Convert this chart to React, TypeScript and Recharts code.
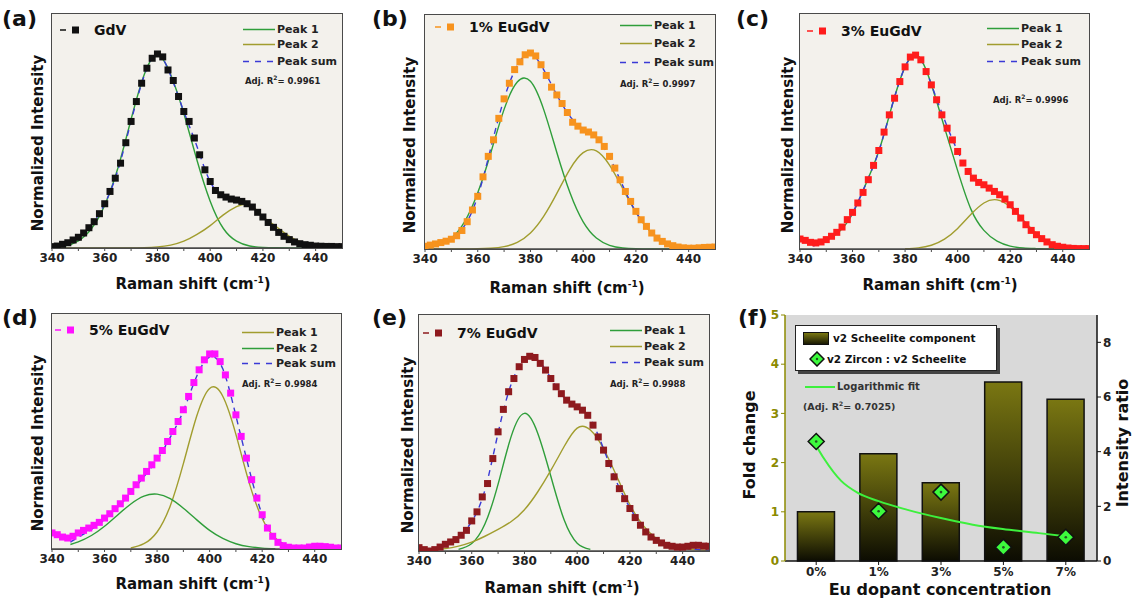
import React from 'react';
import { ComposedChart, Line, Bar, XAxis, YAxis, CartesianGrid } from 'recharts';

const FONT = '"DejaVu Sans", Verdana, sans-serif';
const BG = '#f3f1ec';
const GREEN = '#2f9e3a';
const OLIVE = '#a19d2e';
const BLUE = '#3a3ad6';
const FRAME = '#4a4a4a';

// raman shift grid of the measured points (cm-1)
const shiftGrid = [
  340, 342, 344, 346, 348, 350, 352, 354, 356, 358, 360, 362, 364, 366, 368, 370, 372, 374, 376, 378,
  380, 382, 384, 386, 388, 390, 392, 394, 396, 398, 400, 402, 404, 406, 408, 410, 412, 414, 416, 418,
  420, 422, 424, 426, 428, 430, 432, 434, 436, 438, 440, 442, 444, 446, 448, 450,
];
// grid of the fitted curves
const peakGrid = [340, 345, 350, 355, 360, 365, 370, 375, 380, 385, 390, 395, 400, 405, 410, 415, 420, 425, 430, 435, 440, 445, 450];
const peakGridD = [347, 350, 355, 360, 365, 370, 375, 380, 385, 390, 395, 400, 405, 410, 415, 420, 425, 430, 435, 440, 445, 450];
const ramanTicks = [340, 350, 360, 370, 380, 390, 400, 410, 420, 430, 440];

// (a) GdV
const gdvData = [
  0.007, 0.01, 0.019, 0.027, 0.041, 0.055, 0.077, 0.104, 0.135, 0.176, 0.227, 0.29, 0.358, 0.435, 0.54, 0.649, 0.751, 0.845, 0.922, 0.973,
  0.995, 0.98, 0.913, 0.859, 0.777, 0.7, 0.649, 0.564, 0.478, 0.401, 0.341, 0.295, 0.273, 0.261, 0.251, 0.246, 0.239, 0.227, 0.21, 0.183,
  0.159, 0.131, 0.106, 0.08, 0.06, 0.043, 0.031, 0.022, 0.017, 0.014, 0.01, 0.009, 0.008, 0.008, 0.007, 0.007,
];
const gdvPeak1 = [0.003, 0.011, 0.037, 0.1, 0.22, 0.41, 0.66, 0.89, 0.99, 0.89, 0.69, 0.45, 0.24, 0.1, 0.035, 0.01, 0.003, 0.001, 0, 0, 0, 0, 0];
const gdvPeak2 = [0, 0, 0, 0, 0, 0, 0, 0.002, 0.006, 0.015, 0.035, 0.07, 0.115, 0.17, 0.212, 0.222, 0.162, 0.11, 0.06, 0.028, 0.012, 0.005, 0.002];
const gdvSum = [0.007, 0.022, 0.055, 0.12, 0.227, 0.4, 0.65, 0.885, 0.995, 0.885, 0.7, 0.52, 0.34, 0.267, 0.246, 0.22, 0.159, 0.093, 0.043, 0.019, 0.01, 0.008, 0.007];

// (b) 1% EuGdV
const eu1Data = [
  0.014, 0.02, 0.026, 0.033, 0.04, 0.05, 0.068, 0.095, 0.14, 0.2, 0.27, 0.37, 0.475, 0.56, 0.67, 0.77, 0.85, 0.92, 0.96, 0.996,
  1.005, 0.99, 0.945, 0.89, 0.83, 0.79, 0.746, 0.7, 0.65, 0.63, 0.61, 0.6, 0.585, 0.56, 0.526, 0.475, 0.415, 0.355, 0.295, 0.244,
  0.193, 0.15, 0.116, 0.082, 0.056, 0.039, 0.026, 0.017, 0.01, 0.006, 0.004, 0.004, 0.006, 0.008, 0.009, 0.01,
];
const eu1Peak1 = [0.005, 0.019, 0.056, 0.139, 0.288, 0.495, 0.716, 0.856, 0.86, 0.716, 0.495, 0.288, 0.139, 0.056, 0.019, 0.005, 0.001, 0, 0, 0, 0, 0, 0];
const eu1Peak2 = [0, 0, 0, 0, 0.001, 0.004, 0.012, 0.034, 0.082, 0.167, 0.285, 0.41, 0.494, 0.503, 0.43, 0.31, 0.188, 0.096, 0.041, 0.015, 0.005, 0.001, 0];
const eu1Sum = [0.01, 0.03, 0.055, 0.12, 0.27, 0.52, 0.77, 0.94, 1.0, 0.92, 0.79, 0.68, 0.615, 0.57, 0.47, 0.325, 0.19, 0.1, 0.04, 0.014, 0.004, 0.004, 0.008];

// (c) 3% EuGdV
const eu3Data = [
  0.051, 0.044, 0.034, 0.031, 0.036, 0.048, 0.065, 0.085, 0.112, 0.15, 0.187, 0.235, 0.289, 0.354, 0.427, 0.503, 0.597, 0.685, 0.77, 0.855,
  0.93, 0.98, 0.99, 0.966, 0.906, 0.838, 0.762, 0.685, 0.617, 0.557, 0.498, 0.439, 0.396, 0.362, 0.34, 0.328, 0.311, 0.294, 0.277, 0.255,
  0.226, 0.192, 0.158, 0.124, 0.095, 0.073, 0.053, 0.036, 0.022, 0.014, 0.009, 0.005, 0.003, 0.002, 0.002, 0.002,
];
const eu3Peak1 = [null, 0.02, 0.045, 0.09, 0.18, 0.33, 0.5, 0.73, 0.93, 0.985, 0.84, 0.62, 0.4, 0.205, 0.095, 0.04, 0.015, 0.005, 0.002, 0, 0, 0, 0];
const eu3Peak2 = [null, null, null, null, null, null, null, null, 0.0015, 0.006, 0.019, 0.05, 0.105, 0.176, 0.235, 0.251, 0.215, 0.147, 0.08, 0.035, 0.0125, 0.0035, 0.001];
const eu3Sum = [null, 0.015, 0.045, 0.095, 0.185, 0.33, 0.5, 0.73, 0.93, 0.985, 0.84, 0.66, 0.5, 0.385, 0.33, 0.29, 0.228, 0.145, 0.075, 0.033, 0.012, 0.004, 0.002];

// (d) 5% EuGdV
const eu5Data = [
  0.082, 0.073, 0.061, 0.056, 0.065, 0.082, 0.095, 0.107, 0.121, 0.136, 0.158, 0.18, 0.206, 0.231, 0.26, 0.294, 0.328, 0.362, 0.396, 0.43,
  0.464, 0.503, 0.549, 0.6, 0.651, 0.711, 0.779, 0.85, 0.915, 0.966, 0.996, 0.996, 0.957, 0.889, 0.796, 0.685, 0.575, 0.464, 0.354, 0.26,
  0.175, 0.107, 0.065, 0.034, 0.017, 0.009, 0.005, 0.005, 0.005, 0.01, 0.014, 0.014, 0.012, 0.009, 0.005, 0.005,
];
const eu5Peak1 = [null, null, null, null, null, 0.005, 0.027, 0.087, 0.22, 0.436, 0.675, 0.82, 0.78, 0.585, 0.34, 0.156, 0.056, 0.016, 0.004, 0.001, null, null];
const eu5Peak2 = [0.023, 0.036, 0.069, 0.116, 0.174, 0.23, 0.27, 0.28, 0.257, 0.208, 0.15, 0.095, 0.054, 0.027, 0.012, 0.0046, 0.001, null, null, null, null, null];
const eu5Sum = [0.035, 0.06, 0.1, 0.15, 0.215, 0.285, 0.37, 0.455, 0.57, 0.705, 0.88, 0.98, 0.92, 0.68, 0.41, 0.175, 0.055, 0.015, 0.003, 0.001, 0, 0];

// (e) 7% EuGdV
const eu7Data = [
  0.017, 0.007, 0.0, 0.007, 0.02, 0.034, 0.046, 0.058, 0.08, 0.105, 0.153, 0.199, 0.275, 0.343, 0.47, 0.606, 0.72, 0.81, 0.877, 0.937,
  0.974, 0.99, 0.984, 0.954, 0.92, 0.877, 0.835, 0.8, 0.767, 0.747, 0.733, 0.716, 0.69, 0.64, 0.58, 0.513, 0.445, 0.377, 0.317, 0.266,
  0.216, 0.17, 0.131, 0.097, 0.071, 0.054, 0.041, 0.029, 0.024, 0.02, 0.02, 0.024, 0.029, 0.029, 0.025, 0.024,
];
const eu7Peak1 = [null, null, null, 0.008, 0.038, 0.137, 0.34, 0.584, 0.7, 0.6, 0.38, 0.16, 0.04, 0.008, null, null, null, null, null, null, null, null, null];
const eu7Peak2 = [null, 0.004, 0.012, 0.025, 0.045, 0.075, 0.11, 0.15, 0.21, 0.3, 0.41, 0.53, 0.625, 0.615, 0.52, 0.38, 0.235, 0.13, 0.065, 0.03, 0.014, 0.006, 0.003];
const eu7Sum = [null, 0.005, 0.03, 0.07, 0.15, 0.31, 0.6, 0.85, 0.97, 0.97, 0.88, 0.78, 0.735, 0.67, 0.52, 0.35, 0.22, 0.115, 0.055, 0.027, 0.015, 0.008, 0.004];

// (f)
const dopantLabels = ['0%', '1%', '3%', '5%', '7%'];
const scheeliteFold = [1.0, 2.18, 1.59, 3.64, 3.29];
const zirconRatio = [4.37, 1.82, 2.52, 0.5, 0.87];
const fitPos = [0, 0.13, 0.4, 0.66, 1.0, 1.45, 1.98, 2.51, 2.99, 3.57, 4.0];
const fitRatio = [4.22, 3.73, 2.93, 2.5, 2.19, 1.88, 1.58, 1.33, 1.17, 1.02, 0.9];

const T = ({ x, y, s, c = false, rot = false, color = '#111', children }: any) => (
  <div
    style={{
      position: 'absolute', left: x, top: y, fontSize: s, fontWeight: 700, color, lineHeight: 1,
      whiteSpace: 'nowrap', fontFamily: FONT,
      transform: `translate(${c ? '-50%' : '0'}, -50%)${rot ? ' rotate(-90deg)' : ''}`,
    }}
  >
    {children}
  </div>
);

const squareDot = (color: string) => (p: any) => (
  <rect key={`sq-${p.index}`} x={p.cx - 3.5} y={p.cy - 3.5} width={7} height={7} fill={color} />
);

const diamondDot = (p: any) => (
  <g key={`dm-${p.index}`}>
    <polygon
      points={`${p.cx},${p.cy - 8} ${p.cx + 8},${p.cy} ${p.cx},${p.cy + 8} ${p.cx - 8},${p.cy}`}
      fill="#3dfa3d" stroke="#111" strokeWidth={1.5}
    />
    <circle cx={p.cx} cy={p.cy} r={1.3} fill="#225522" />
  </g>
);

function Spectrum({ px, py, pw, ph, squares, sqColor, p1, p2, sum, grid, c1, c2 }: any) {
  const sq = shiftGrid.map((x, i) => ({ x, y: squares[i] }));
  const l1 = grid.map((x: number, i: number) => ({ x, y: p1[i] }));
  const l2 = grid.map((x: number, i: number) => ({ x, y: p2[i] }));
  const ls = grid.map((x: number, i: number) => ({ x, y: sum[i] }));
  const mt = 6;
  const ml = 20;
  const mr = 12;
  const xh = 26;
  const axis = { stroke: FRAME, strokeWidth: 1.5 };
  return (
    <>
      <div style={{ position: 'absolute', left: px - ml, top: py - mt }}>
        <ComposedChart width={pw + ml + mr} height={ph + mt + xh} margin={{ top: mt, right: mr, left: ml, bottom: 0 }}>
          <CartesianGrid fill={BG} horizontal={false} vertical={false} />
          <XAxis
            type="number" dataKey="x" domain={[340, 450]} ticks={ramanTicks} allowDataOverflow interval={0}
            tickFormatter={(v) => (v % 20 === 0 ? String(v) : '')} height={xh} tickSize={3}
            tick={{ fontSize: 12, fontWeight: 700, fill: '#222', fontFamily: FONT }}
            axisLine={axis} tickLine={{ stroke: FRAME }}
          />
          <YAxis type="number" domain={[0, 1.2]} width={0} tick={false} tickLine={false} axisLine={axis} allowDataOverflow />
          <Line data={sq} dataKey="y" stroke="none" dot={squareDot(sqColor)} isAnimationActive={false} />
          <Line data={l1} dataKey="y" type="natural" stroke={c1} strokeWidth={1.4} dot={false} isAnimationActive={false} />
          <Line data={l2} dataKey="y" type="natural" stroke={c2} strokeWidth={1.4} dot={false} isAnimationActive={false} />
          <Line data={ls} dataKey="y" type="natural" stroke={BLUE} strokeWidth={1.4} strokeDasharray="6 5" dot={false} isAnimationActive={false} />
        </ComposedChart>
      </div>
      <div
        style={{
          position: 'absolute', left: px - 1, top: py - 1, width: pw + 2, height: ph + 2,
          border: `1.5px solid ${FRAME}`, boxSizing: 'border-box', pointerEvents: 'none',
        }}
      />
    </>
  );
}

function DataKey({ x, y, color, name }: any) {
  return (
    <div style={{ position: 'absolute', left: x, top: y, transform: 'translateY(-50%)', display: 'flex', alignItems: 'center' }}>
      <svg width={22} height={10}>
        <line x1={0} y1={5} x2={6} y2={5} stroke={color} strokeWidth={1.5} />
        <rect x={12} y={1.5} width={7} height={7} fill={color} />
      </svg>
      <span style={{ marginLeft: 12, fontSize: 14, fontWeight: 700, fontFamily: FONT, color: '#111' }}>{name}</span>
    </div>
  );
}

function PeakKey({ x, rows, colors, r2, r2x, r2y }: any) {
  const labels = ['Peak 1', 'Peak 2', 'Peak sum'];
  return (
    <>
      {labels.map((lab, i) => (
        <div key={lab} style={{ position: 'absolute', left: x, top: rows[i], transform: 'translateY(-50%)', display: 'flex', alignItems: 'center' }}>
          <svg width={32} height={6}>
            <line x1={0} y1={3} x2={32} y2={3} stroke={colors[i]} strokeWidth={1.5} strokeDasharray={i === 2 ? '6 6' : undefined} />
          </svg>
          <span style={{ marginLeft: 2, fontSize: 11, fontWeight: 700, fontFamily: FONT, color: '#222' }}>{lab}</span>
        </div>
      ))}
      <T x={r2x} y={r2y} s={8.5} color="#222">
        Adj. R<sup style={{ fontSize: 6 }}>2</sup>= {r2}
      </T>
    </>
  );
}

const RamanTitle = ({ x, y }: any) => (
  <T x={x} y={y} s={15} c>
    Raman shift (cm<sup style={{ fontSize: 9 }}>-1</sup>)
  </T>
);

function FoldPanel() {
  const rows = dopantLabels.map((c, i) => ({ c, fold: scheeliteFold[i], ratio: zirconRatio[i] }));
  const fit = fitPos.map((p, i) => ({ p, v: fitRatio[i] }));
  const olive = '#8c8a00';
  return (
    <div style={{ position: 'absolute', left: 755, top: 305 }}>
      <ComposedChart width={372} height={286} data={rows} margin={{ top: 10, right: 0, left: 0, bottom: 0 }} barCategoryGap="20%">
        <defs>
          <linearGradient id="barGrad" x1="0" y1="0" x2="0" y2="1">
            <stop offset="0" stopColor="#7a7712" />
            <stop offset="1" stopColor="#0c0c02" />
          </linearGradient>
        </defs>
        <CartesianGrid fill="#d9d9d9" horizontal={false} vertical={false} />
        <XAxis
          dataKey="c" height={30} tickSize={4} axisLine={{ stroke: '#111', strokeWidth: 1.5 }} tickLine={{ stroke: '#111' }}
          tick={{ fontSize: 12, fontWeight: 700, fill: '#222', fontFamily: FONT }}
        />
        <XAxis xAxisId="fit" type="number" dataKey="p" domain={[-0.5, 4.5]} hide />
        <YAxis
          yAxisId="l" domain={[0, 5]} ticks={[0, 1, 2, 3, 4, 5]} width={30} tickSize={4}
          axisLine={{ stroke: olive, strokeWidth: 1.5 }} tickLine={{ stroke: olive }}
          tick={{ fontSize: 12, fontWeight: 700, fill: olive, fontFamily: FONT }}
        />
        <YAxis
          yAxisId="r" orientation="right" domain={[0, 9]} ticks={[0, 2, 4, 6, 8]} width={30} tickSize={4}
          axisLine={{ stroke: '#111', strokeWidth: 1.5 }} tickLine={{ stroke: '#111' }}
          tick={{ fontSize: 12, fontWeight: 700, fill: '#222', fontFamily: FONT }}
        />
        <Bar yAxisId="l" dataKey="fold" fill="url(#barGrad)" stroke="#111" strokeWidth={1.5} isAnimationActive={false} />
        <Line xAxisId="fit" yAxisId="r" data={fit} dataKey="v" type="monotone" stroke="#3df03d" strokeWidth={2} dot={false} isAnimationActive={false} />
        <Line yAxisId="r" dataKey="ratio" stroke="none" dot={diamondDot} isAnimationActive={false} />
      </ComposedChart>
    </div>
  );
}

export default function App() {
  return (
    <div style={{ position: 'absolute', left: 0, top: 0, width: 1133, height: 601, background: '#fff', overflow: 'hidden', fontFamily: FONT }}>
      {/* (a) */}
      <Spectrum px={52} py={14} pw={290} ph={234} squares={gdvData} sqColor="#111" p1={gdvPeak1} p2={gdvPeak2} sum={gdvSum} grid={peakGrid} c1={GREEN} c2={OLIVE} />
      <T x={2} y={19} s={22}>(a)</T>
      <DataKey x={60} y={30} color="#111" name="GdV" />
      <PeakKey x={243} rows={[29, 44, 61]} colors={[GREEN, OLIVE, BLUE]} r2="0.9961" r2x={245} r2y={80} />
      <RamanTitle x={193} y={284} />
      <T x={38} y={143} s={15} c rot>Normalized Intensity</T>

      {/* (b) */}
      <Spectrum px={425} py={15} pw={290} ph={234} squares={eu1Data} sqColor="#f7931e" p1={eu1Peak1} p2={eu1Peak2} sum={eu1Sum} grid={peakGrid} c1={GREEN} c2={OLIVE} />
      <T x={372} y={19} s={22}>(b)</T>
      <DataKey x={435} y={27} color="#f7931e" name="1% EuGdV" />
      <PeakKey x={620} rows={[25, 43, 62]} colors={[GREEN, OLIVE, BLUE]} r2="0.9997" r2x={620} r2y={83} />
      <RamanTitle x={567} y={288} />
      <T x={410} y={145} s={15} c rot>Normalized Intensity</T>

      {/* (c) */}
      <Spectrum px={800} py={14} pw={289} ph={235} squares={eu3Data} sqColor="#ff1c1c" p1={eu3Peak1} p2={eu3Peak2} sum={eu3Sum} grid={peakGrid} c1={GREEN} c2={OLIVE} />
      <T x={736} y={19} s={22}>(c)</T>
      <DataKey x={807} y={31} color="#ff1c1c" name="3% EuGdV" />
      <PeakKey x={987} rows={[28, 44, 61]} colors={[GREEN, OLIVE, BLUE]} r2="0.9996" r2x={993} r2y={99} />
      <RamanTitle x={940} y={285} />
      <T x={788} y={145} s={15} c rot>Normalized Intensity</T>

      {/* (d) */}
      <Spectrum px={52} py={314} pw={289} ph={235} squares={eu5Data} sqColor="#ff10ff" p1={eu5Peak1} p2={eu5Peak2} sum={eu5Sum} grid={peakGridD} c1={OLIVE} c2={GREEN} />
      <T x={2} y={318} s={22}>(d)</T>
      <DataKey x={55} y={330} color="#ff10ff" name="5% EuGdV" />
      <PeakKey x={242} rows={[332, 348, 363]} colors={[OLIVE, GREEN, BLUE]} r2="0.9984" r2x={242} r2y={383} />
      <RamanTitle x={193} y={584} />
      <T x={38} y={443} s={15} c rot>Normalized Intensity</T>

      {/* (e) */}
      <Spectrum px={419} py={315} pw={290} ph={236} squares={eu7Data} sqColor="#8e1a1e" p1={eu7Peak1} p2={eu7Peak2} sum={eu7Sum} grid={peakGrid} c1={GREEN} c2={OLIVE} />
      <T x={372} y={318} s={22}>(e)</T>
      <DataKey x={423} y={333} color="#8e1a1e" name="7% EuGdV" />
      <PeakKey x={610} rows={[330, 346, 362]} colors={[GREEN, OLIVE, BLUE]} r2="0.9988" r2x={610} r2y={383} />
      <RamanTitle x={562} y={588} />
      <T x={408} y={445} s={15} c rot>Normalized Intensity</T>

      {/* (f) */}
      <FoldPanel />
      <T x={738} y={318} s={22}>(f)</T>
      <div style={{ position: 'absolute', left: 795, top: 325, width: 200, height: 44, background: '#fff', border: '1px solid #222', boxShadow: '3px 3px 0 #444' }} />
      <div style={{ position: 'absolute', left: 803, top: 332, width: 24, height: 11, border: '1.5px solid #111', background: 'linear-gradient(#7a7712, #1a1a04)' }} />
      <T x={833} y={338} s={10.5}>v2 Scheelite component</T>
      <svg style={{ position: 'absolute', left: 809, top: 351 }} width={16} height={16}>
        <polygon points="8,1 15,8 8,15 1,8" fill="#3dfa3d" stroke="#111" strokeWidth={1.5} />
        <circle cx={8} cy={8} r={1.2} fill="#225522" />
      </svg>
      <T x={827} y={359} s={10.5}>v2 Zircon : v2 Scheelite</T>
      <svg style={{ position: 'absolute', left: 805, top: 385 }} width={30} height={4}>
        <line x1={0} y1={2} x2={30} y2={2} stroke="#3df03d" strokeWidth={2} />
      </svg>
      <T x={837} y={387} s={10} color="#333">Logarithmic fit</T>
      <T x={803} y={406} s={9.5} color="#333">
        (Adj. R<sup style={{ fontSize: 6 }}>2</sup>= 0.7025)
      </T>
      <T x={750} y={445} s={16} c rot>Fold change</T>
      <T x={1123} y={443} s={16} c rot>Intensity ratio</T>
      <T x={940} y={590} s={16} c>Eu dopant concentration</T>
    </div>
  );
}
